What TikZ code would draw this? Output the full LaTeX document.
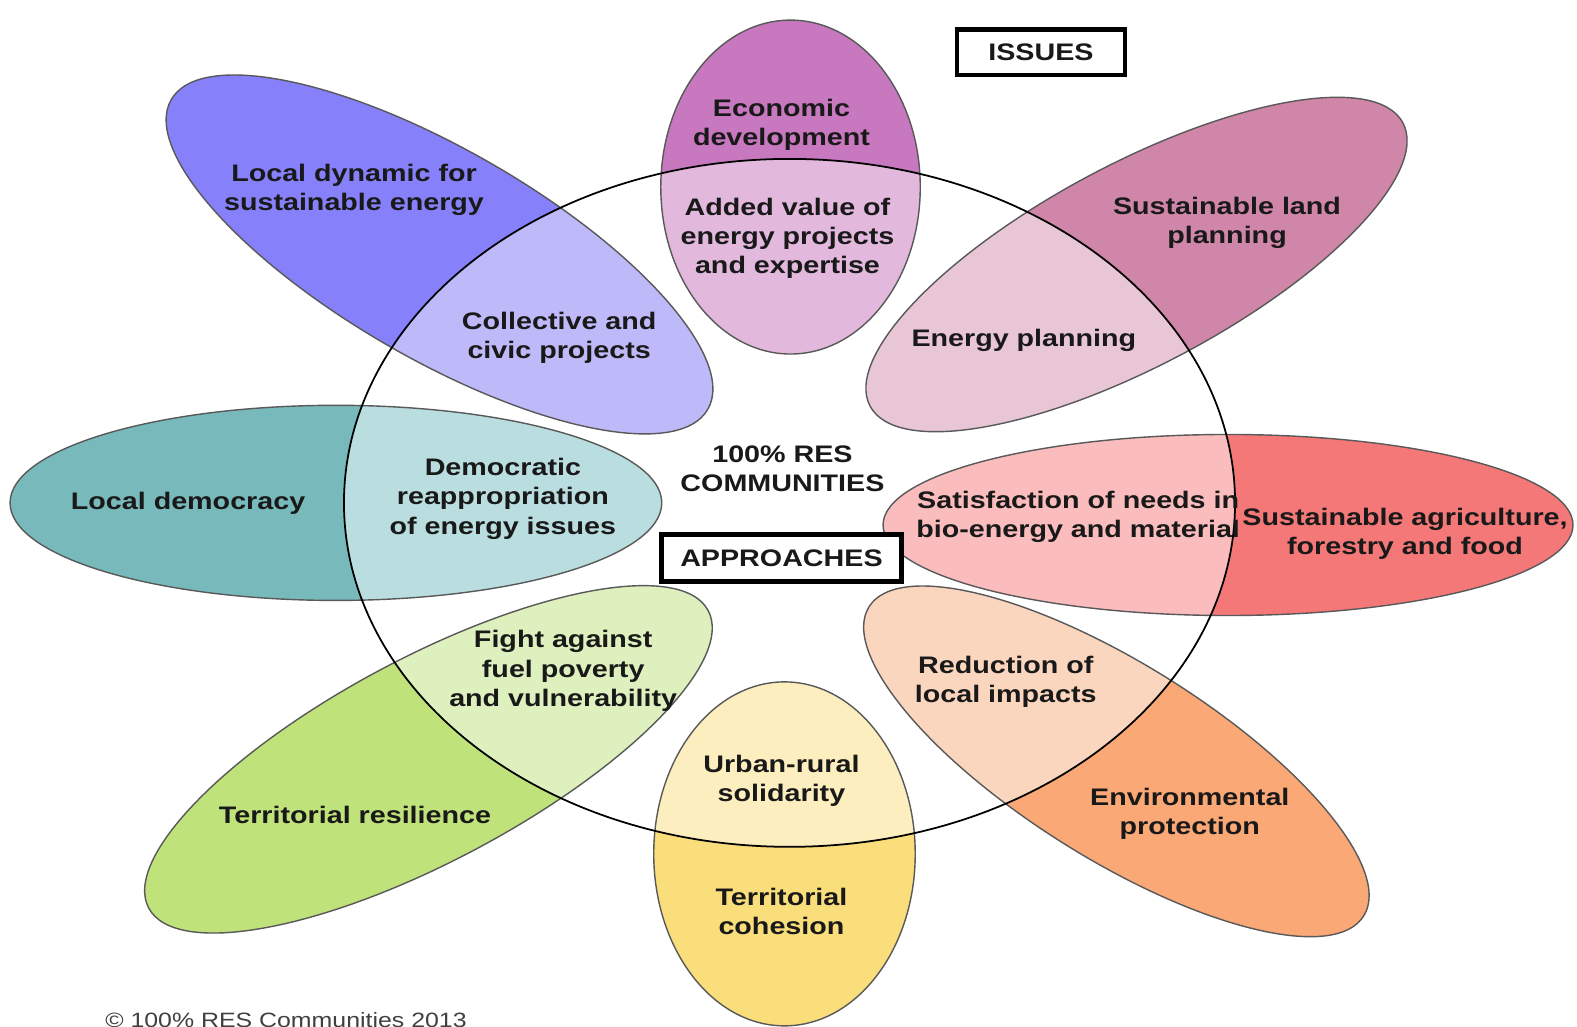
\documentclass[tikz,border=0pt]{standalone}
\usepackage{fontspec}
\newfontfamily\petalfont{Liberation Sans}[FakeStretch=1.2]
\usepackage{xcolor}

\definecolor{ecoOut}{HTML}{C778BE}
\definecolor{ecoIn}{HTML}{E2B8DD}
\definecolor{dynOut}{HTML}{8680FA}
\definecolor{dynIn}{HTML}{BEBAFA}
\definecolor{landOut}{HTML}{D086A8}
\definecolor{landIn}{HTML}{E8C6D6}
\definecolor{demOut}{HTML}{78BABC}
\definecolor{demIn}{HTML}{BADEE0}
\definecolor{agriOut}{HTML}{F57878}
\definecolor{agriIn}{HTML}{FABCBC}
\definecolor{resOut}{HTML}{C0E27A}
\definecolor{resIn}{HTML}{DEF0BE}
\definecolor{cohOut}{HTML}{FADE7C}
\definecolor{cohIn}{HTML}{FCEEBE}
\definecolor{envOut}{HTML}{FAA876}
\definecolor{envIn}{HTML}{FBD6BE}

% petal: centre, angle, x radius, y radius, outer colour, inner colour
\newcommand{\drawpetal}[6]{%
  \fill[#5,rotate around={#2:#1}] #1 ellipse [x radius=#3,y radius=#4];
  \begin{scope}
    \clip (785,521) ellipse [x radius=443,y radius=342];
    \fill[#6,rotate around={#2:#1}] #1 ellipse [x radius=#3,y radius=#4];
  \end{scope}
  \draw[petaledge,rotate around={#2:#1}] #1 ellipse [x radius=#3,y radius=#4];}

\begin{document}
\begin{tikzpicture}[x=0.010057cm,y=0.010057cm,
 petaledge/.style={draw=black!65,line width=0.4pt},
 hub/.style={draw=black,line width=0.5pt},
 lbl/.style={font=\petalfont\bfseries\fontsize{6.8}{8.3}\selectfont,align=center,
   text=black!90,inner sep=0pt},
 tagbox/.style={draw=black,line width=1.3pt,fill=white,inner sep=0pt,
   font=\petalfont\bfseries\fontsize{6.8}{8.3}\selectfont,text=black!90}]
\fill[white] (0,0) rectangle (1568,1021);
\useasboundingbox (0,0) rectangle (1568,1021);

% petals
\drawpetal{(334,521)}{0}{324}{97}{demOut}{demIn}
\drawpetal{(1221,499)}{0}{343}{90}{agriOut}{agriIn}
\drawpetal{(437,768)}{-30}{308}{104}{dynOut}{dynIn}
\drawpetal{(1130,758)}{28}{300}{100}{landOut}{landIn}
\drawpetal{(426,266)}{28}{315}{101}{resOut}{resIn}
\drawpetal{(1110,264)}{-32}{290}{97}{envOut}{envIn}
\drawpetal{(786,835)}{0}{129}{166}{ecoOut}{ecoIn}
\drawpetal{(780,172)}{0}{130}{171}{cohOut}{cohIn}

% central ring
\draw[hub] (785,521) ellipse [x radius=443,y radius=342];

% issues (outer) and approaches (inner)
\node [lbl] (eco) at (777,897) {Economic\\development};
\node [lbl] (added) at (783,784) {Added value of\\energy projects\\and expertise};
\node [lbl] (dyn) at (352,832) {Local dynamic for\\sustainable energy};
\node [lbl] (civic) at (556,685) {Collective and\\civic projects};
\node [lbl] (land) at (1220,799) {Sustainable land\\planning};
\node [lbl] (enplan) at (1018,683) {Energy planning};
\node [lbl] (dem) at (187,521) {Local democracy};
\node [lbl] (reapp) at (500,525) {Democratic\\reappropriation\\of energy issues};
\node [lbl] (bio) at (1072,507) {Satisfaction of needs in\\bio-energy and material};
\node [lbl] (agri) at (1397,490) {Sustainable agriculture,\\forestry and food};
\node [lbl] (fuel) at (560,354) {Fight against\\fuel poverty\\and vulnerability};
\node [lbl] (resil) at (353,211) {Territorial resilience};
\node [lbl] (impact) at (1000,343) {Reduction of\\local impacts};
\node [lbl] (env) at (1183,212) {Environmental\\protection};
\node [lbl] (urban) at (777,245) {Urban-rural\\solidarity};
\node [lbl] (coh) at (777,115) {Territorial\\cohesion};

\node [lbl] (core) at (778,555) {100\% RES\\COMMUNITIES};
\node [tagbox,minimum width=1.68cm,minimum height=0.45cm] (issues) at (1035,969) {ISSUES};
\node [tagbox,minimum width=2.40cm,minimum height=0.47cm] (approaches) at (777,466) {APPROACHES};

\node [anchor=base west,inner sep=0pt,text=black!75,
  font=\petalfont\fontsize{5.9}{7}\selectfont] (copy) at (104,-1) {\textcopyright{} 100\% RES Communities 2013};
\end{tikzpicture}
\end{document}
